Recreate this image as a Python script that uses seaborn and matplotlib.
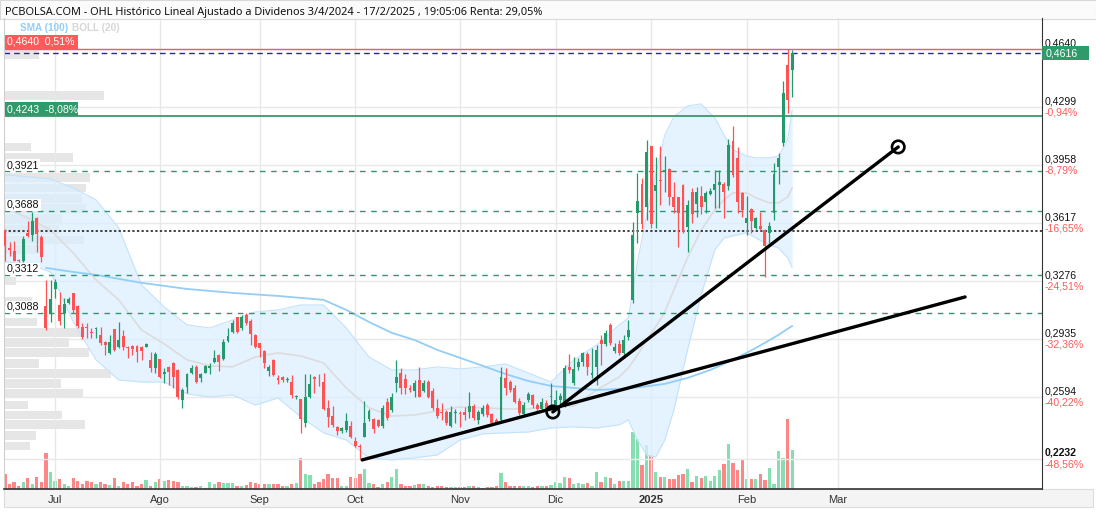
import matplotlib
matplotlib.use("Agg")
import matplotlib.pyplot as plt
from matplotlib.patches import Rectangle
import matplotlib.transforms as mtransforms
import numpy as np
import seaborn as sns

# OHL daily candles, bar index 0 = 14/6/2024 ... 173 = 17/2/2025
opens = [.3573,.3470,.3453,.3400,.3394,.3557,.3547,.3646,.3533,.3129,
         .3086,.3228,.3135,.3090,.3145,.3208,.3129,.3004,.3008,.2974,
         .2996,.2959,.2920,.2851,.2992,.2886,.2953,.2890,.2894,.2894,
         .2890,.2890,.2812,.2763,.2816,.2729,.2773,.2792,.2753,.2576,
         .2651,.2733,.2773,.2704,.2737,.2765,.2798,.2841,.2816,.2925,
         .2978,.3063,.2998,.3076,.3043,.2959,.2910,.2867,.2749,.2812,
         .2704,.2710,.2696,.2684,.2594,.2580,.2443,.2596,.2710,.2690,
         .2684,.2527,.2482,.2420,.2396,.2400,.2424,.2337,.2308,.2361,
         .2463,.2463,.2459,.2424,.2567,.2518,.2678,.2737,.2700,.2647,
         .2631,.2694,.2631,.2684,.2631,.2528,.2508,.2508,.2424,.2500,
         .2500,.2506,.2508,.2541,.2459,.2494,.2547,.2494,.2459,.2459,
         .2704,.2684,.2645,.2573,.2494,.2577,.2606,.2547,.2522,.2561,
         .2594,.2547,.2577,.2547,.2769,.2678,.2773,.2802,.2847,.2724,
         .2772,.2929,.2906,.3018,.2867,.2906,.2851,.2949,.3163,.3674,
         .3846,.3713,.4068,.3807,.3870,.3919,.3933,.3772,.3768,.3841,
         .3592,.3797,.3729,.3776,.3742,.3788,.3811,.3840,.3846,.3835,
         .4101,.3997,.3791,.3615,.3697,.3586,.3600,.3576,.3560,.3678,
         .3948,.4089,.4546,.4517]
highs = [.3580,.3505,.3511,.3405,.3541,.3631,.3684,.3650,.3547,.3282,
         .3282,.3286,.3213,.3176,.3180,.3208,.3135,.3028,.3031,.2998,
         .3008,.3008,.2925,.2959,.2992,.3037,.2988,.2894,.2898,.2898,
         .2894,.2914,.2861,.2861,.2820,.2763,.2775,.2800,.2757,.2645,
         .2735,.2782,.2780,.2733,.2782,.2792,.2871,.2845,.2933,.2998,
         .3047,.3067,.3076,.3086,.3050,.2963,.2914,.2871,.2782,.2816,
         .2724,.2720,.2714,.2724,.2606,.2582,.2729,.2729,.2720,.2729,
         .2733,.2576,.2539,.2425,.2420,.2498,.2455,.2361,.2320,.2573,
         .2525,.2470,.2465,.2547,.2588,.2618,.2812,.2765,.2729,.2665,
         .2694,.2771,.2694,.2694,.2647,.2581,.2561,.2518,.2541,.2524,
         .2510,.2535,.2625,.2553,.2518,.2547,.2559,.2500,.2471,.2769,
         .2763,.2694,.2665,.2588,.2565,.2624,.2612,.2559,.2588,.2577,
         .2675,.2635,.2618,.2782,.2847,.2831,.2824,.2861,.2859,.2880,
         .2900,.2959,.2988,.3029,.2910,.2929,.2959,.3047,.3625,.3913,
         .3880,.4102,.4068,.4007,.4070,.4011,.3939,.3860,.3772,.3845,
         .3752,.3820,.3831,.3835,.3805,.3821,.3929,.3929,.3855,.4109,
         .4188,.4062,.3797,.3776,.3705,.3654,.3684,.3580,.3625,.3968,
         .4027,.4454,.4640,.4635]
lows = [.3394,.3423,.3394,.3390,.3390,.3533,.3511,.3447,.3390,.2990,
        .3037,.3176,.3018,.3000,.3141,.3086,.3000,.2933,.2943,.2939,
        .2939,.2900,.2841,.2847,.2867,.2880,.2871,.2822,.2841,.2802,
        .2812,.2886,.2743,.2737,.2704,.2675,.2665,.2645,.2582,.2528,
        .2620,.2729,.2675,.2680,.2733,.2729,.2792,.2749,.2812,.2920,
        .2970,.2968,.2990,.3018,.2900,.2880,.2827,.2763,.2718,.2720,
        .2671,.2684,.2680,.2586,.2580,.2380,.2420,.2590,.2616,.2659,
        .2518,.2416,.2416,.2370,.2380,.2390,.2350,.2300,.2228,.2359,
        .2455,.2384,.2415,.2412,.2459,.2506,.2626,.2612,.2612,.2624,
        .2594,.2594,.2624,.2588,.2518,.2471,.2459,.2430,.2418,.2441,
        .2420,.2459,.2471,.2459,.2435,.2482,.2477,.2435,.2435,.2453,
        .2606,.2624,.2559,.2488,.2482,.2565,.2530,.2506,.2512,.2506,
        .2547,.2518,.2547,.2535,.2734,.2665,.2753,.2777,.2724,.2706,
        .2665,.2782,.2894,.2900,.2853,.2841,.2824,.2929,.3147,.3498,
        .3580,.3635,.3590,.3586,.3723,.3801,.3723,.3674,.3478,.3560,
        .3449,.3619,.3650,.3668,.3678,.3780,.3703,.3705,.3645,.3811,
        .3889,.3674,.3654,.3546,.3556,.3580,.3574,.3301,.3498,.3635,
        .3846,.4070,.4262,.4357]
closes = [.3479,.3459,.3394,.3392,.3523,.3541,.3631,.3551,.3419,.2998,
          .3169,.3270,.3043,.3141,.3169,.3106,.3012,.2945,.2998,.2970,
          .3000,.2910,.2900,.2920,.2871,.2929,.2890,.2882,.2875,.2861,
          .2867,.2906,.2763,.2847,.2714,.2743,.2743,.2714,.2592,.2635,
          .2729,.2763,.2680,.2729,.2776,.2775,.2822,.2802,.2920,.2953,
          .3031,.2978,.3067,.3028,.2965,.2886,.2880,.2792,.2773,.2724,
          .2694,.2694,.2700,.2606,.2600,.2463,.2596,.2671,.2700,.2686,
          .2522,.2478,.2429,.2396,.2410,.2455,.2361,.2308,.2302,.2440,
          .2514,.2404,.2424,.2529,.2469,.2596,.2714,.2645,.2647,.2635,
          .2678,.2596,.2678,.2596,.2528,.2482,.2502,.2440,.2508,.2506,
          .2494,.2488,.2541,.2469,.2508,.2528,.2488,.2443,.2449,.2714,
          .2645,.2635,.2567,.2502,.2547,.2612,.2547,.2522,.2567,.2518,
          .2602,.2577,.2600,.2763,.2753,.2757,.2802,.2855,.2772,.2737,
          .2871,.2906,.2972,.2910,.2890,.2855,.2929,.2988,.3546,.3746,
          .3611,.4037,.3611,.3841,.3866,.3929,.3772,.3713,.3674,.3566,
          .3723,.3670,.3797,.3713,.3795,.3807,.3846,.3860,.3801,.4076,
          .3899,.3742,.3694,.3645,.3631,.3645,.3584,.3482,.3600,.3905,
          .3997,.4383,.4340,.4616]
# volume, millions of shares
volumes = [1.5,0.5,0.7,0.3,0.7,1.1,0.5,1.2,0.7,3.6,
           1.7,0.8,1.0,0.5,0.3,1.1,0.8,0.5,0.8,0.7,
           0.5,0.7,0.5,0.4,1.1,0.3,0.7,0.5,0.7,0.3,
           0.5,0.9,0.3,0.7,1.0,0.8,0.9,0.8,0.7,0.3,
           0.3,0.2,0.2,0.3,0.1,0.7,0.5,0.7,0.6,0.6,
           0.6,0.3,0.3,0.4,0.7,0.6,0.5,0.5,0.5,0.5,
           0.5,0.3,0.3,0.5,0.6,3.1,1.5,1.4,0.5,0.7,
           1.0,1.5,1.1,1.1,0.3,0.3,1.2,1.1,1.5,2.0,
           0.6,0.5,0.2,0.5,0.7,1.2,2.0,0.5,0.3,0.3,
           0.4,0.5,0.5,0.3,0.2,0.3,0.3,0.2,0.2,0.2,
           0.2,0.2,0.3,0.3,0.2,0.1,0.2,0.2,0.3,1.6,
           0.7,0.3,0.3,0.3,0.3,0.3,0.2,0.3,0.3,0.3,
           0.4,0.7,0.6,1.2,1.1,0.5,0.6,0.5,0.6,0.3,
           1.7,0.7,1.2,1.1,0.5,0.8,0.8,0.8,5.7,5.0,
           2.4,4.4,3.4,1.7,1.2,1.2,1.0,1.0,1.4,1.5,
           2.0,0.7,1.3,1.1,1.3,0.8,1.3,1.9,2.5,4.5,
           2.6,1.9,3.0,1.0,1.0,1.0,1.5,0.9,2.1,0.5,
           3.8,3.1,7.0,3.9]

month_pos = [11, 34, 56, 77, 100, 121, 142, 163, 183]
month_labels = ['Jul', 'Ago', 'Sep', 'Oct', 'Nov', 'Dic', '2025', 'Feb', 'Mar']

# BOLL(20) and SMA(100)
boll_idx = [0,5,10,15,20,25,30,35,40,45,50,55,60,65,70,75,80,85,90,95,100,105,110,115,120,
            125,130,135,137,139,141,143,145,147,150,153,156,158,160,163,165,168,170,172,173]
boll_up = [.3900,.3888,.3876,.3823,.3753,.3588,.3253,.3123,.3018,.3000,.3047,.3094,.3106,.3135,
           .3135,.3000,.2829,.2753,.2753,.2771,.2759,.2771,.2788,.2735,.2682,.2812,.2900,.3018,
           .3059,.3388,.3664,.3900,.4135,.4241,.4305,.4317,.4235,.4135,.4047,.4011,.4000,.4000,
           .4011,.4105,.4282]
boll_mid = [.3706,.3647,.3576,.3441,.3282,.3165,.2988,.2906,.2812,.2777,.2771,.2829,.2853,.2835,
            .2794,.2647,.2530,.2482,.2488,.2512,.2535,.2530,.2524,.2524,.2541,.2541,.2635,.2712,
            .2765,.2841,.2929,.3006,.3094,.3223,.3412,.3576,.3694,.3753,.3794,.3794,.3765,.3735,
            .3735,.3770,.3823]
boll_low = [.3388,.3376,.3329,.3035,.2812,.2694,.2682,.2682,.2612,.2594,.2606,.2547,.2588,.2477,
            .2383,.2341,.2236,.2224,.2236,.2253,.2341,.2377,.2383,.2388,.2412,.2418,.2412,.2430,
            .2459,.2341,.2253,.2241,.2341,.2518,.2871,.3194,.3459,.3529,.3541,.3559,.3529,.3488,
            .3470,.3412,.3353]
sma_idx = [9,15,20,30,40,50,60,70,75,80,85,90,95,100,105,110,115,120,125,130,135,140,145,150,
           155,160,165,170,173]
sma_vals = [.3353,.3329,.3312,.3265,.3229,.3206,.3188,.3165,.3106,.3035,.2971,.2929,.2871,.2824,
            .2777,.2729,.2688,.2659,.2647,.2635,.2641,.2653,.2671,.2706,.2753,.2812,.2882,.2959,.3012]

# volume at price profile (left)
prof_price = [.4608,.4366,.4064,.4003,.3882,.3823,.3760,.3700,.3641,.3579,.3517,.3459,.3276,
              .3153,.3035,.2973,.2912,.2853,.2791,.2730,.2671,.2612,.2547,.2488,.2430,.2367,.2306]
prof_vol = [3.5,10.0,2.7,6.9,8.6,8.2,7.8,8.2,5.8,5.5,8.0,4.0,1.2,2.8,3.3,7.7,6.5,8.5,3.5,10.7,
            5.7,7.9,2.4,5.8,8.1,3.2,2.6]

right_ticks = [0.4640, 0.4299, 0.3958, 0.3617, 0.3276, 0.2935, 0.2594, 0.2232]
right_pct = ['', '-0,94%', '-8,79%', '-16,65%', '-24,51%', '-32,36%', '-40,22%', '-48,56%']
dash_levels = [0.3921, 0.3688, 0.3312, 0.3088]
dot_level = 0.3570
max_level, max_pct = 0.4640, '0,51%'
ref_level, ref_pct = 0.4243, '-8,08%'
last_close = 0.4616

trend1_x, trend1_y = [78.5, 211.0], [0.2224, 0.3182]
trend2_x, trend2_y = [120.4, 196.3], [0.2506, 0.4064]

title = ("PCBOLSA.COM - OHL Histórico Lineal Ajustado a Dividenos 3/4/2024 - 17/2/2025 , "
         "19:05:06 Renta: 29,05%")

sns.set_style("white")
plt.rcParams['font.family'] = ['Liberation Sans', 'DejaVu Sans']

def fmt(v):
    return ('%.4f' % v).replace('.', ',')

W, H = 1096, 512
fig = plt.figure(figsize=(W / 100, H / 100), dpi=100)
rect = [4 / W, 23 / H, 1038 / W, 471 / H]
ymin, ymax = 0.2053, 0.4822
xmin, xmax = -0.22, 227.9
PX = 1701.0  # pixels per price unit

axg = fig.add_axes(rect)
axv = fig.add_axes(rect)
ax = fig.add_axes(rect)
for a in (axv, ax):
    a.patch.set_alpha(0)

# background: volume profile
axg.set_xlim(0, 103.8)
axg.set_ylim(ymin, ymax)
axg.barh(prof_price, prof_vol, height=0.0052, color='#e6e6e6', lw=0)
axg.axis('off')

# volume bars
x = np.arange(len(closes))
o, h, l, c = map(np.array, (opens, highs, lows, closes))
up = c >= o
axv.bar(x, volumes, width=0.72, color=np.where(up, '#86dfb1', '#ff8686'), lw=0)
axv.set_xlim(xmin, xmax)
axv.set_ylim(0, 47.1)
axv.axis('off')

# main price axes
ax.set_xlim(xmin, xmax)
ax.set_ylim(ymin, ymax)
for p in right_ticks:
    ax.axhline(p, color='#e8e8e8', lw=1, zorder=0)
for m in month_pos:
    ax.axvline(m, color='#e8e8e8', lw=1, zorder=0)

ax.fill_between(boll_idx, boll_low, boll_up, color='#dcefff', alpha=0.75, lw=0, zorder=1)
sns.lineplot(x=boll_idx, y=boll_up, ax=ax, color='#c4e2fb', linewidth=0.8, estimator=None, sort=False, zorder=1)
sns.lineplot(x=boll_idx, y=boll_low, ax=ax, color='#c4e2fb', linewidth=0.8, estimator=None, sort=False, zorder=1)
sns.lineplot(x=boll_idx, y=boll_mid, ax=ax, color='#dcdcdc', linewidth=1.2, estimator=None, sort=False, zorder=2)
sns.lineplot(x=sma_idx, y=sma_vals, ax=ax, color='#94cdf7', linewidth=1.3, estimator=None, sort=False, zorder=2)

# level lines
ax.axhline(max_level, color='#ff5a5a', lw=1, zorder=2)
ax.axhline(last_close, color='#1f1fe0', lw=1, ls=(0, (4, 3)), zorder=2)
ax.axhline(ref_level, color='#2f8f5f', lw=1.2, zorder=2)
for lv in dash_levels:
    ax.axhline(lv, color='#2a9a6e', lw=1, ls=(0, (4, 4)), zorder=2)
ax.axhline(dot_level, color='#111111', lw=1.1, ls=(0, (1.5, 1.5)), zorder=2)

# candles
cols = np.where(up, '#239a6c', '#ff5252')
ax.vlines(x, l, h, colors=cols, lw=0.9, zorder=3)
ax.bar(x, np.maximum(np.abs(c - o), 0.00035), bottom=np.minimum(o, c), width=0.64,
       color=cols, lw=0, zorder=4)

# trend lines
ax.plot(trend1_x, trend1_y, color='black', lw=2.4, solid_capstyle='round', zorder=6)
ax.plot(trend2_x, trend2_y, color='black', lw=2.4, solid_capstyle='round', zorder=6)
ax.scatter(trend2_x, trend2_y, s=80, facecolors='none', edgecolors='black', linewidths=1.9, zorder=7)

# axes styling
ax.set_xticks(month_pos)
ax.set_xticklabels(month_labels)
ax.tick_params(axis='x', length=0, pad=4.5, labelsize=8, colors='#333333')
ax.get_xticklabels()[6].set_fontweight('bold')
ax.set_yticks([])
ax.set_xlabel('')
ax.set_ylabel('')
ax.spines['top'].set_visible(False)
ax.spines['left'].set_color('#d0d0d0')
ax.spines['right'].set_color('#333333')
ax.spines['bottom'].set_color('#333333')
ax.spines['bottom'].set_linewidth(1.2)

# right axis labels
for p, pct in zip(right_ticks, right_pct):
    ax.annotate(fmt(p), xy=(1, p), xycoords=('axes fraction', 'data'), xytext=(2, 4),
                textcoords='offset points', va='center', ha='left', fontsize=7.6,
                color='#111111', fontweight='bold' if p == right_ticks[-1] else 'normal',
                annotation_clip=False)
    if pct:
        ax.annotate(pct, xy=(1, p), xycoords=('axes fraction', 'data'), xytext=(2, -4.3),
                    textcoords='offset points', va='center', ha='left', fontsize=7.6,
                    color='#ff5a5a', annotation_clip=False)

blend = mtransforms.blended_transform_factory(ax.transAxes, ax.transData)
bw = 73 / 1038
bh = 14 / PX
ax.add_patch(Rectangle((1 / 1038, max_level), bw, bh, transform=blend, fc='#ff5a5a', ec='none',
                       zorder=8, clip_on=False))
ax.text(3 / 1038, max_level + bh / 2, fmt(max_level) + '  ' + max_pct, transform=blend,
        va='center', ha='left', color='white', fontsize=7.6, zorder=9)
ax.add_patch(Rectangle((1 / 1038, ref_level), bw, bh, transform=blend, fc='#2f9a6a', ec='none',
                       zorder=8, clip_on=False))
ax.text(3 / 1038, ref_level + bh / 2, fmt(ref_level) + '  ' + ref_pct, transform=blend,
        va='center', ha='left', color='white', fontsize=7.6, zorder=9)
ax.add_patch(Rectangle((1, last_close - bh / 2), 47 / 1038, bh, transform=blend, fc='#2f9a6a',
                       ec='none', zorder=8, clip_on=False))
ax.text(1 + 4 / 1038, last_close, fmt(last_close), transform=blend, va='center', ha='left',
        color='white', fontsize=7.7, zorder=9, clip_on=False)

for lv in dash_levels:
    ax.text(3 / 1038, lv + 6 / PX, fmt(lv), transform=blend, va='center', ha='left',
            fontsize=7.7, color='#111111', zorder=9,
            bbox=dict(boxstyle='square,pad=0.1', fc='white', ec='none'))

# title strip, legend, date strip
fig.add_artist(Rectangle((0, 1 - 19 / H), 1, 19 / H, transform=fig.transFigure,
                         fc='#fbfbfb', ec='#d9d9d9', lw=0.8, zorder=0))
fig.text(5 / W, 1 - 12.5 / H, title, fontsize=7.9, va='center', ha='left', color='#111111',
         family=['Noto Sans', 'DejaVu Sans'])
fig.text(20 / W, 1 - 28 / H, 'SMA (100)', fontsize=7.2, fontweight='bold', color='#94cdf7',
         va='center', ha='left')
fig.text(72 / W, 1 - 28 / H, 'BOLL (20)', fontsize=7.2, fontweight='bold', color='#d6d6d6',
         va='center', ha='left')
fig.add_artist(Rectangle((4 / W, 5 / H), 1089 / W, 18 / H, transform=fig.transFigure,
                         fc='#f4f4f4', ec='#dcdcdc', lw=0.8, zorder=0))

fig.savefig('out.png', dpi=100)
